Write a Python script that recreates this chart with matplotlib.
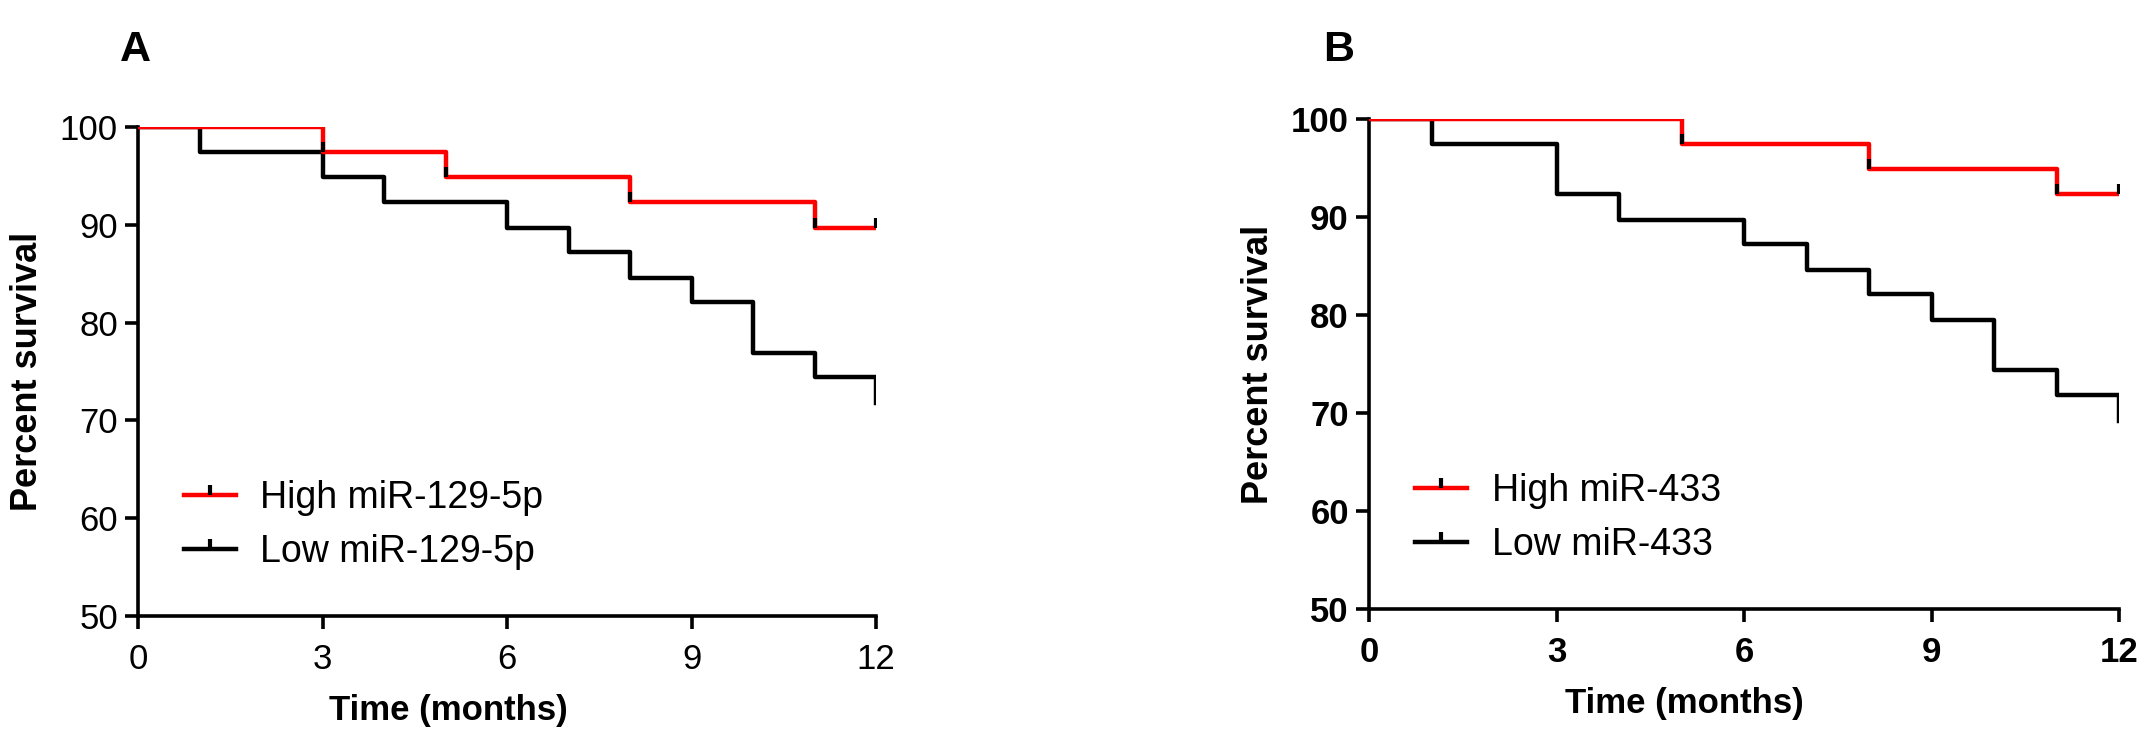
import numpy as np
import matplotlib
matplotlib.use("Agg")
import matplotlib.pyplot as plt
from matplotlib.path import Path
from matplotlib.lines import Line2D
from matplotlib.legend_handler import HandlerTuple

plt.rcParams['font.family'] = ['Liberation Sans', 'DejaVu Sans']

# panel A: miR-129-5p
a_high_t = [0, 3, 5, 8, 11, 12]
a_high_s = [100, 97.4, 94.9, 92.3, 89.7, 89.7]
a_low_t = [0, 1, 3, 4, 6, 7, 8, 9, 10, 11, 12]
a_low_s = [100, 97.4, 94.9, 92.3, 89.7, 87.2, 84.6, 82.1, 76.9, 74.4, 71.8]
a_cens_t = [3, 5, 8, 11, 12]
a_cens_s = [97.4, 94.9, 92.3, 89.7, 89.7]

# panel B: miR-433
b_high_t = [0, 5, 8, 11, 12]
b_high_s = [100, 97.4, 94.9, 92.3, 92.3]
b_low_t = [0, 1, 3, 4, 6, 7, 8, 9, 10, 11, 12]
b_low_s = [100, 97.4, 92.3, 89.7, 87.2, 84.6, 82.1, 79.5, 74.4, 71.8, 69.2]
b_cens_t = [5, 8, 11, 12]
b_cens_s = [97.4, 94.9, 92.3, 92.3]

x_ticks = [0, 3, 6, 9, 12]
y_ticks = [50, 60, 70, 80, 90, 100]

W, H = 2150, 741

# upward censor tick
up_tick = Path([(0, 0), (0, 1)])

fig = plt.figure(figsize=(W / 100, H / 100), dpi=100)


def createPanel(px, letter, high_t, high_s, low_t, low_s, cens_t, cens_s,
                name, tick_weight, letter_px):
    # px = (left, top, right, bottom) of the plot area in pixels
    l, t, r, b = px
    ax = fig.add_axes([l / W, (H - b) / H, (r - l) / W, (b - t) / H])
    ax.step(high_t, high_s, where='post', color='#ff0000', lw=3.2, zorder=3)
    ax.step(low_t, low_s, where='post', color='black', lw=3.2, zorder=2)
    ax.plot(cens_t, cens_s, ls='none', marker=up_tick, markersize=15,
            markeredgewidth=3.0, color='black', zorder=4)
    ax.set_xlim(0, 12)
    ax.set_ylim(50, 100)
    ax.set_xticks(x_ticks)
    ax.set_yticks(y_ticks)
    for s in ['top', 'right']:
        ax.spines[s].set_visible(False)
    for s in ['left', 'bottom']:
        ax.spines[s].set_linewidth(2.6)
    ax.tick_params(direction='out', length=9.5, width=2.6, labelsize=25)
    ax.tick_params(axis='x', pad=10)
    ax.tick_params(axis='y', pad=5)
    for lab in ax.get_xticklabels() + ax.get_yticklabels():
        lab.set_fontweight(tick_weight)
    ax.set_xlabel('Time (months)', fontsize=25, fontweight='bold')
    ax.xaxis.set_label_coords(0.42, -78 / (b - t))
    ax.set_ylabel('Percent survival', fontsize=26, fontweight='bold')
    ax.yaxis.set_label_coords(-93 / (r - l), 0.5)

    h_line = Line2D([], [], color='#ff0000', lw=3.2)
    l_line = Line2D([], [], color='black', lw=3.2)
    mk = Line2D([], [], ls='none', marker=up_tick, markersize=14,
                markeredgewidth=3.0, color='black')
    ax.legend([(h_line, mk), (l_line, mk)],
              ['High ' + name, 'Low ' + name],
              handler_map={tuple: HandlerTuple(ndivide=1, pad=0)},
              loc='center left', bbox_to_anchor=(0.016, 0.186), frameon=False,
              fontsize=27, handlelength=1.4, handletextpad=0.65, labelspacing=0.48)
    fig.text(letter_px[0] / W, 1 - letter_px[1] / H, letter, fontsize=31,
             fontweight='bold', ha='left', va='top')
    return ax


createPanel((138, 127, 876, 616), 'A', a_high_t, a_high_s,
            a_low_t, a_low_s, a_cens_t, a_cens_s, 'miR-129-5p', 'normal',
            (120, 30))
createPanel((1369, 119, 2119, 609), 'B', b_high_t, b_high_s,
            b_low_t, b_low_s, b_cens_t, b_cens_s, 'miR-433', 'bold',
            (1323, 30))

fig.savefig('out.png', dpi=100)
